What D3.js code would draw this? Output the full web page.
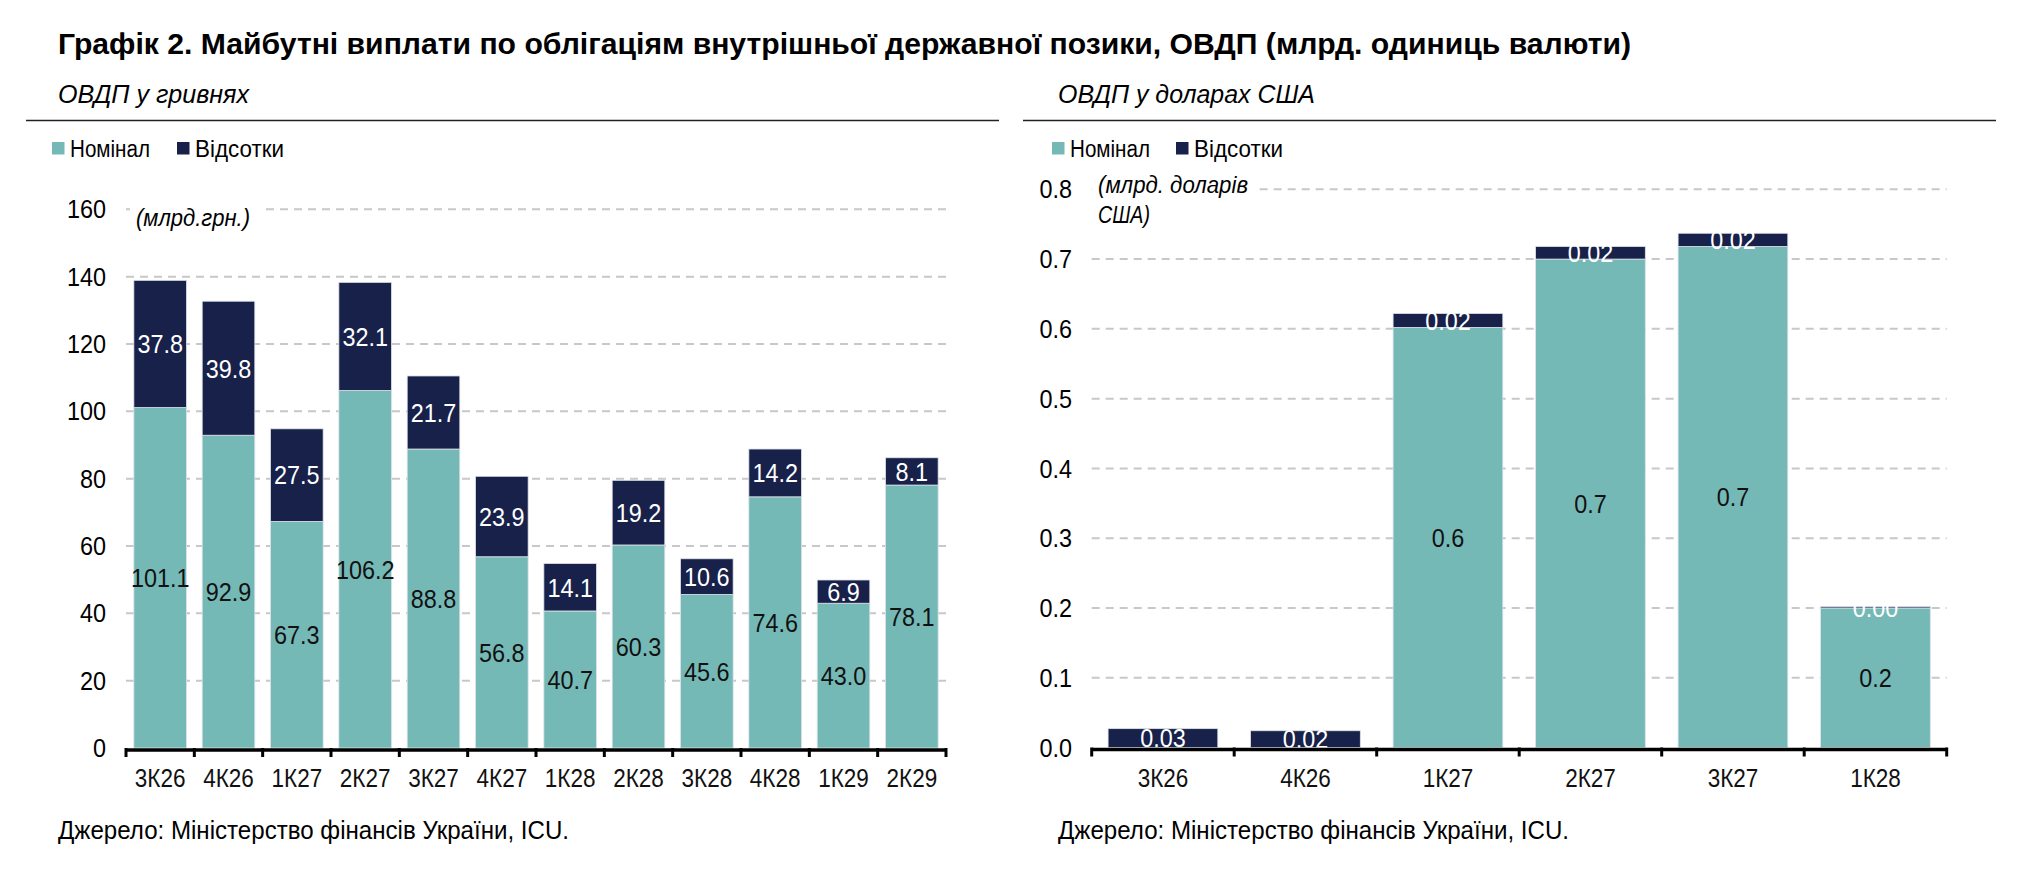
<!DOCTYPE html>
<html>
<head>
<meta charset="utf-8">
<script src="https://cdn.jsdelivr.net/npm/d3@7"></script>
<style>
  body { margin: 0; background: #fff; }
  svg { display: block; font-family: "Liberation Sans", Arial, sans-serif; }
</style>
</head>
<body>
<svg id="chart" width="2022" height="870"></svg>
<script>
// --- data ---
const uahQuarters = ['3К26', '4К26', '1К27', '2К27', '3К27', '4К27', '1К28', '2К28', '3К28', '4К28', '1К29', '2К29'];
const uahNominal  = [101.1, 92.9, 67.3, 106.2, 88.8, 56.8, 40.7, 60.3, 45.6, 74.6, 43.0, 78.1];
const uahInterest = [37.8, 39.8, 27.5, 32.1, 21.7, 23.9, 14.1, 19.2, 10.6, 14.2, 6.9, 8.1];
const uahTicks    = [0, 20, 40, 60, 80, 100, 120, 140, 160];

const usdQuarters = ['3К26', '4К26', '1К27', '2К27', '3К27', '1К28'];
const usdNominal  = [0, 0, 0.602, 0.700, 0.718, 0.200];
const usdInterest = [0.027, 0.024, 0.020, 0.018, 0.019, 0.002];
const usdTicks    = [0, 0.1, 0.2, 0.3, 0.4, 0.5, 0.6, 0.7, 0.8];

const seriesNames = ['Номінал', 'Відсотки'];
const colors = { nominal: '#75b9b7', interest: '#18214a', grid: '#c8c8c8' };

const svg = d3.select('#chart');

// the reference uses a condensed face; squeeze Liberation Sans horizontally
// (data-w = explicit target width, otherwise k * natural width)
function squeeze(sel, k) {
    sel.each(function () {
        const t = d3.select(this);
        if (t.attr('textLength')) return;
        const w = t.attr('data-w') ? +t.attr('data-w') : this.getComputedTextLength() * k;
        t.attr('textLength', w).attr('lengthAdjust', 'spacingAndGlyphs');
    });
}

// title
svg.append('text')
    .attr('x', 58).attr('y', 54)
    .attr('font-size', 30).attr('font-weight', 'bold')
    .attr('data-w', 1573)
    .text('Графік 2. Майбутні виплати по облігаціям внутрішньої державної позики, ОВДП (млрд. одиниць валюти)');

function drawPanel(opt) {
    const g = svg.append('g');

    // subtitle + rule
    g.append('text')
        .attr('x', opt.subX).attr('y', 103)
        .attr('font-size', 25).attr('font-style', 'italic')
        .attr('data-w', opt.subW)
        .text(opt.subtitle);
    g.append('line')
        .attr('x1', opt.ruleX[0]).attr('x2', opt.ruleX[1])
        .attr('y1', 120.5).attr('y2', 120.5)
        .attr('stroke', '#222').attr('stroke-width', 1.3);

    // legend
    const leg = g.append('g').attr('font-size', 23);
    seriesNames.forEach((name, i) => {
        const lx = opt.legendX[i];
        leg.append('rect')
            .attr('x', lx).attr('y', 142).attr('width', 12.5).attr('height', 12.5)
            .attr('fill', i === 0 ? colors.nominal : colors.interest);
        leg.append('text')
            .attr('x', lx + 18).attr('y', 149).attr('dy', '0.35em')
            .attr('data-w', opt.legendW[i])
            .text(name);
    });

    const x = d3.scaleBand()
        .domain(opt.categories)
        .range(opt.xRange)
        .paddingInner(0.23).paddingOuter(0.115);

    const y = d3.scaleLinear()
        .domain([0, opt.ticks[opt.ticks.length - 1]])
        .range(opt.yRange);

    // gridlines
    g.append('g').selectAll('line')
        .data(opt.ticks.slice(1))
        .join('line')
        .attr('x1', opt.xRange[0]).attr('x2', opt.xRange[1])
        .attr('y1', d => y(d)).attr('y2', d => y(d))
        .attr('stroke', colors.grid).attr('stroke-width', 2)
        .attr('stroke-dasharray', '8,6');

    // unit label with white backing (hides top gridline)
    const unit = g.append('g');
    const unitBg = unit.append('rect').attr('fill', '#fff');
    const unitText = unit.append('text')
        .attr('font-size', 23).attr('font-style', 'italic');
    opt.unitLines.forEach((ln, i) => {
        unitText.append('tspan')
            .attr('x', opt.unitPos[0])
            .attr('y', opt.unitPos[1] + i * 30)
            .attr('dy', '0.35em')
            .attr('data-w', opt.unitW[i])
            .text(ln);
    });
    squeeze(unitText.selectAll('tspan'), 0.8);
    const bb = unitText.node().getBBox();
    unitBg.attr('x', bb.x - 6).attr('y', bb.y).attr('width', bb.width + 16).attr('height', bb.height);

    // stacked bars
    const rows = opt.categories.map((c, i) => ({ cat: c, nominal: opt.nominal[i], interest: opt.interest[i] }));
    const stacked = d3.stack().keys(['nominal', 'interest'])(rows);

    const layers = g.append('g').selectAll('g')
        .data(stacked)
        .join('g')
        .attr('fill', d => colors[d.key]);

    layers.selectAll('rect')
        .data(d => d)
        .join('rect')
        .attr('x', d => x(d.data.cat))
        .attr('width', x.bandwidth())
        .attr('y', d => y(d[1]))
        .attr('height', d => Math.max(0, y(d[0]) - y(d[1])))
        .attr('stroke', '#dde3ea').attr('stroke-width', 0.8);

    // value labels
    stacked.forEach(layer => {
        g.append('g').selectAll('text')
            .data(layer.filter(d => d[1] - d[0] > 0))
            .join('text')
            .attr('class', 'num')
            .attr('x', d => x(d.data.cat) + x.bandwidth() / 2)
            .attr('y', d => (y(d[0]) + y(d[1])) / 2)
            .attr('dy', '0.36em')
            .attr('text-anchor', 'middle')
            .attr('font-size', 26)
            .attr('fill', layer.key === 'interest' ? '#fff' : '#111')
            .text(d => (d[1] - d[0]).toFixed(opt.decimals[layer.key]));
    });

    // y tick labels
    g.append('g').selectAll('text')
        .data(opt.ticks)
        .join('text')
        .attr('class', 'num')
        .attr('x', opt.yLabelX)
        .attr('y', d => y(d)).attr('dy', '0.35em')
        .attr('text-anchor', 'end')
        .attr('font-size', 26)
        .text(d => d3.format(opt.tickFormat)(d));

    // x axis: thick baseline, ticks between categories
    const axis = g.append('g')
        .attr('transform', `translate(0, ${opt.yRange[0] + 1.5})`)
        .call(d3.axisBottom(x).tickSize(0).tickPadding(20));
    axis.attr('font-family', null).attr('font-size', null);
    axis.select('.domain')
        .attr('stroke', '#000').attr('stroke-width', 3.5);
    axis.selectAll('.tick text')
        .attr('class', 'num')
        .attr('font-size', 25).attr('fill', '#111');

    const step = x.step();
    const bounds = d3.range(opt.categories.length + 1).map(i => opt.xRange[0] + i * step);
    g.append('g').selectAll('line')
        .data(bounds)
        .join('line')
        .attr('x1', d => d).attr('x2', d => d)
        .attr('y1', opt.yRange[0]).attr('y2', opt.yRange[0] + 9)
        .attr('stroke', '#000').attr('stroke-width', 3);

    // source
    g.append('text')
        .attr('x', opt.subX).attr('y', 830).attr('dy', '0.35em')
        .attr('font-size', 25)
        .attr('data-w', 511)
        .text('Джерело: Міністерство фінансів України, ICU.');
}

drawPanel({
    subtitle: 'ОВДП у гривнях',
    subX: 58,
    subW: 191,
    ruleX: [26, 999],
    legendX: [52, 177],
    legendW: [80, 89],
    categories: uahQuarters,
    nominal: uahNominal,
    interest: uahInterest,
    ticks: uahTicks,
    tickFormat: 'd',
    decimals: { nominal: 1, interest: 1 },
    xRange: [126, 946],
    yRange: [748, 209.3],
    yLabelX: 106,
    unitLines: ['(млрд.грн.)'],
    unitW: [114],
    unitPos: [136, 218]
});

drawPanel({
    subtitle: 'ОВДП у доларах США',
    subX: 1058,
    subW: 257,
    ruleX: [1023, 1996],
    legendX: [1052, 1176],
    legendW: [80, 89],
    categories: usdQuarters,
    nominal: usdNominal,
    interest: usdInterest,
    ticks: usdTicks,
    tickFormat: '.1f',
    decimals: { nominal: 1, interest: 2 },
    xRange: [1091.7, 1946.7],
    yRange: [747.5, 189.3],
    yLabelX: 1072,
    unitLines: ['(млрд. доларів', 'США)'],
    unitW: [150, 52],
    unitPos: [1098, 185]
});

// numbers are only slightly narrower than regular Helvetica; letters are condensed
squeeze(svg.selectAll('text.num'), 0.9);
squeeze(svg.selectAll('text').filter(function () { return !this.querySelector('tspan'); }), 0.82);
</script>
</body>
</html>
